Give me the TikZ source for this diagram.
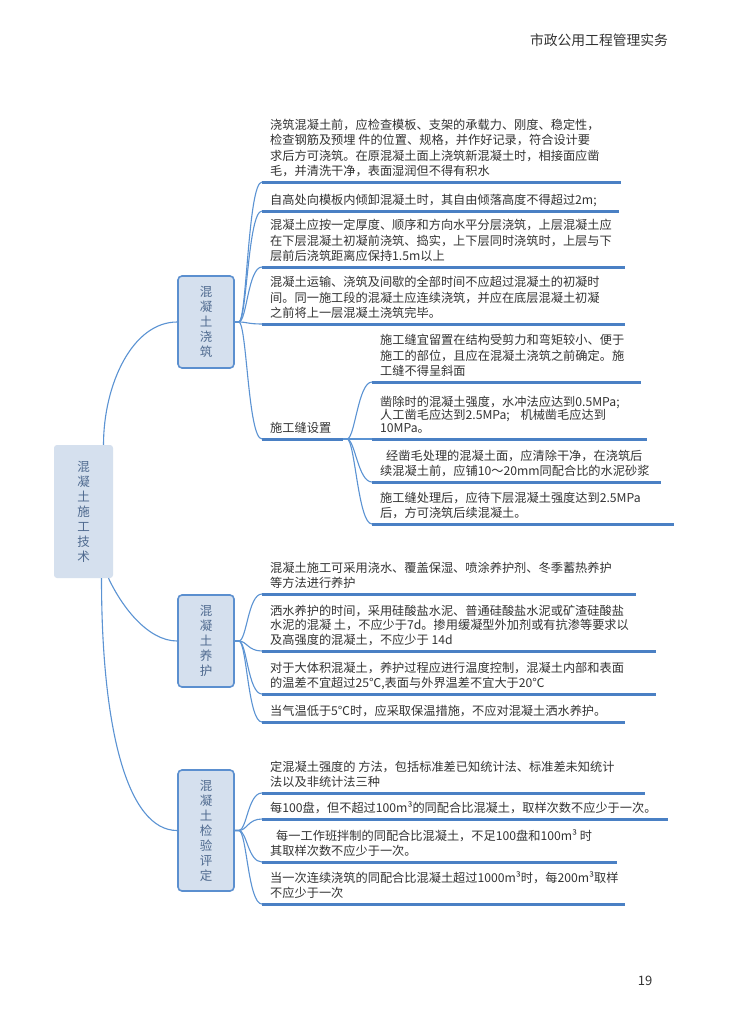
\documentclass[tikz,border=0pt]{standalone}
\usepackage{fontspec}
\setmainfont{Noto Sans CJK SC}
\usetikzlibrary{positioning}
\definecolor{lineblue}{HTML}{4A80C4}
\definecolor{connblue}{HTML}{5B93D3}
\definecolor{boxfill}{HTML}{D5E0EE}
\definecolor{boxdraw}{HTML}{5B8FCF}
\definecolor{boxtext}{HTML}{4F6A8F}
\definecolor{bodytext}{HTML}{333333}
\tikzset{
  uline/.style={draw=lineblue, line width=3pt},
  conn/.style={draw=connblue, line width=1.1pt},
  txt/.style={inner sep=0pt, align=left, text=bodytext, text depth=2pt, font=\fontsize{12.2}{15.3}\selectfont},
  catbox/.style={draw=boxdraw, line width=1.6pt, fill=boxfill, rounded corners=4pt, minimum width=56pt, text=boxtext, align=center, font=\fontsize{12.5}{15}\selectfont},
  rootbox/.style={fill=boxfill, rounded corners=3pt, minimum width=59pt, minimum height=133pt, text=boxtext, align=center, font=\fontsize{12.5}{15}\selectfont},
}
\begin{document}
\begin{tikzpicture}[x=1pt,y=-1pt]
\fill[white] (0,0) rectangle (731,1028);
\node[text=bodytext, font=\fontsize{13.8}{16}\selectfont] (head) at (599,40) {市政公用工程管理实务};
\node[text=bodytext, font=\fontsize{13}{16}\selectfont] (pnum) at (645,981) {19};

\node[rootbox] (root) at (83.5,511.5) {混\\凝\\土\\施\\工\\技\\术};
\node[catbox, minimum height=92pt] (b1) at (206,322) {混\\凝\\土\\浇\\筑};
\node[catbox, minimum height=92pt] (b2) at (206,641) {混\\凝\\土\\养\\护};
\node[catbox, minimum height=121pt] (b3) at (206,830.5) {混\\凝\\土\\检\\验\\评\\定};
\draw[conn] ([xshift=20pt]root.north) to[out=90,in=180,out distance=60pt,in distance=45pt] (b1.west);
\draw[conn] ([xshift=25pt]root.south) to[out=-65,in=180,out distance=30pt,in distance=30pt] (b2.west);
\draw[conn] ([xshift=18pt]root.south) to[out=-90,in=180,out distance=150pt,in distance=50pt] (b3.west);

\coordinate (a1l) at (262,182); \coordinate (a1r) at (621,182);
\coordinate (a2l) at (262,211); \coordinate (a2r) at (619,211);
\coordinate (a3l) at (262,267); \coordinate (a3r) at (625,267);
\coordinate (a4l) at (262,324); \coordinate (a4r) at (625,324);
\coordinate (a5l) at (262,439); \coordinate (a5r) at (343,439);
\foreach \i in {1,...,5} {
  \draw[conn] (b1.east) -- ++(4,0) to[out=0,in=180,out distance=8pt,in distance=14pt] (a\i l);
  \draw[uline] (a\i l) -- (a\i r);
}
\node[txt, above right=4.5pt and 8pt of a1l] (a1t) {浇筑混凝土前，应检查模板、支架的承载力、刚度、稳定性，\\检查钢筋及预埋 件的位置、规格，并作好记录，符合设计要\\求后方可浇筑。在原混凝土面上浇筑新混凝土时，相接面应凿\\毛，并清洗干净，表面湿润但不得有积水};
\node[txt, above right=4.5pt and 8pt of a2l] (a2t) {自高处向模板内倾卸混凝土时，其自由倾落高度不得超过2m;};
\node[txt, above right=4.5pt and 8pt of a3l] (a3t) {混凝土应按一定厚度、顺序和方向水平分层浇筑，上层混凝土应\\在下层混凝土初凝前浇筑、捣实，上下层同时浇筑时，上层与下\\层前后浇筑距离应保持1.5m以上};
\node[txt, above right=4.5pt and 8pt of a4l] (a4t) {混凝土运输、浇筑及间歇的全部时间不应超过混凝土的初凝时\\间。同一施工段的混凝土应连续浇筑，并应在底层混凝土初凝\\之前将上一层混凝土浇筑完毕。};
\node[txt, above right=4.5pt and 8pt of a5l] (a5t) {施工缝设置};

\coordinate (s1l) at (372,382); \coordinate (s1r) at (641,382);
\coordinate (s2l) at (372,439); \coordinate (s2r) at (647,439);
\coordinate (s3l) at (372,482); \coordinate (s3r) at (661,482);
\coordinate (s4l) at (372,524); \coordinate (s4r) at (674,524);
\foreach \i in {1,...,4} {
  \draw[conn] (a5r) -- ++(4,0) to[out=0,in=180,out distance=8pt,in distance=14pt] (s\i l);
  \draw[uline] (s\i l) -- (s\i r);
}
\node[txt, above right=4.5pt and 8pt of s1l] (s1t) {施工缝宜留置在结构受剪力和弯矩较小、便于\\施工的部位，且应在混凝土浇筑之前确定。施\\工缝不得呈斜面};
\node[txt, font=\fontsize{12.2}{13}\selectfont, above right=4.5pt and 8pt of s2l] (s2t) {凿除时的混凝土强度，水冲法应达到0.5MPa;\\人工凿毛应达到2.5MPa;\hspace{8pt} 机械凿毛应达到\\10MPa。};
\node[txt, above right=4.5pt and 8pt of s3l] (s3t) {\hspace*{6pt}经凿毛处理的混凝土面，应清除干净，在浇筑后\\续混凝土前，应铺10～20mm同配合比的水泥砂浆};
\node[txt, above right=4.5pt and 8pt of s4l] (s4t) {施工缝处理后，应待下层混凝土强度达到2.5MPa\\后，方可浇筑后续混凝土。};

\coordinate (c1l) at (262,594); \coordinate (c1r) at (636,594);
\coordinate (c2l) at (262,651); \coordinate (c2r) at (656,651);
\coordinate (c3l) at (262,694); \coordinate (c3r) at (656,694);
\coordinate (c4l) at (262,722); \coordinate (c4r) at (625,722);
\foreach \i in {1,...,4} {
  \draw[conn] (b2.east) -- ++(4,0) to[out=0,in=180,out distance=8pt,in distance=14pt] (c\i l);
  \draw[uline] (c\i l) -- (c\i r);
}
\node[txt, above right=4.5pt and 8pt of c1l] (c1t) {混凝土施工可采用浇水、覆盖保湿、喷涂养护剂、冬季蓄热养护\\等方法进行养护};
\node[txt, font=\fontsize{12.2}{14.6}\selectfont, above right=4.5pt and 8pt of c2l] (c2t) {洒水养护的时间，采用硅酸盐水泥、普通硅酸盐水泥或矿渣硅酸盐\\水泥的混凝 土，不应少于7d。掺用缓凝型外加剂或有抗渗等要求以\\及高强度的混凝土，不应少于 14d};
\node[txt, above right=4.5pt and 8pt of c3l] (c3t) {对于大体积混凝土，养护过程应进行温度控制，混凝土内部和表面\\的温差不宜超过25℃,表面与外界温差不宜大于20℃};
\node[txt, above right=4.5pt and 8pt of c4l] (c4t) {当气温低于5℃时，应采取保温措施，不应对混凝土洒水养护。};

\coordinate (d1l) at (262,793); \coordinate (d1r) at (645,793);
\coordinate (d2l) at (262,819); \coordinate (d2r) at (668,819);
\coordinate (d3l) at (262,862); \coordinate (d3r) at (617,862);
\coordinate (d4l) at (262,904); \coordinate (d4r) at (625,904);
\foreach \i in {1,...,4} {
  \draw[conn] (b3.east) -- ++(4,0) to[out=0,in=180,out distance=8pt,in distance=14pt] (d\i l);
  \draw[uline] (d\i l) -- (d\i r);
}
\node[txt, above right=4.5pt and 8pt of d1l] (d1t) {定混凝土强度的 方法，包括标准差已知统计法、标准差未知统计\\法以及非统计法三种};
\node[txt, above right=4.5pt and 8pt of d2l] (d2t) {每100盘，但不超过100m³的同配合比混凝土，取样次数不应少于一次。};
\node[txt, above right=4.5pt and 8pt of d3l] (d3t) {\hspace*{6pt}每一工作班拌制的同配合比混凝土，不足100盘和100m³ 时\\其取样次数不应少于一次。};
\node[txt, above right=4.5pt and 8pt of d4l] (d4t) {当一次连续浇筑的同配合比混凝土超过1000m³时，每200m³取样\\不应少于一次};
\end{tikzpicture}
\end{document}
